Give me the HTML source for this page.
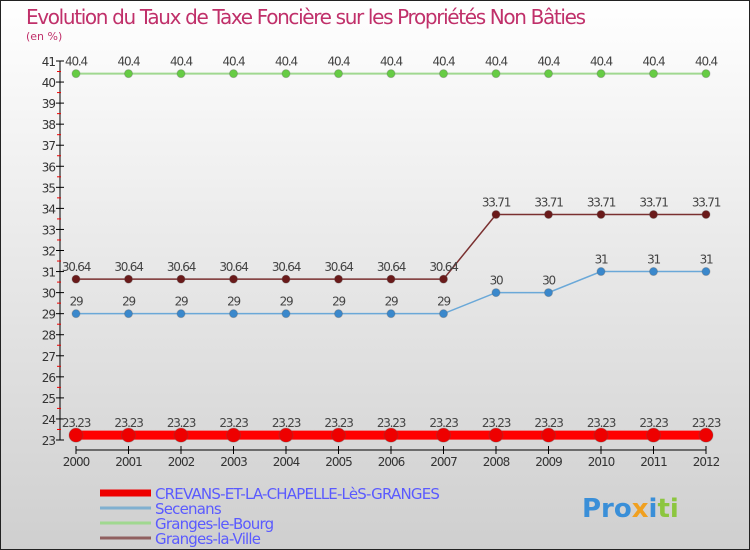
<!DOCTYPE html>
<html><head><meta charset="utf-8"><style>
body{margin:0;}
#c{width:750px;height:550px;position:relative;overflow:hidden;font-family:"DejaVu Sans","Liberation Sans",sans-serif;}
svg text{font-family:"DejaVu Sans","Liberation Sans",sans-serif;}
</style></head><body>
<div id="c">
<svg id="s" width="750" height="550" xmlns="http://www.w3.org/2000/svg">
<defs><linearGradient id="bg" x1="0" y1="0" x2="0" y2="1"><stop offset="0" stop-color="#ffffff"/><stop offset="1" stop-color="#cfcfcf"/></linearGradient></defs>
<rect x="0.5" y="0.5" width="749" height="549" fill="url(#bg)" stroke="#222"/>
<text x="26" y="24" font-size="20" fill="#c0306a" textLength="560">Evolution du Taux de Taxe Foncière sur les Propriétés Non Bâties</text>
<text x="26" y="40" font-size="11" fill="#c0306a">(en %)</text>
<g id="axes"></g><g id="series"></g><g id="legend"></g>
<text x="582" y="517" font-size="26" font-weight="bold" fill="#3a8fd8">Pro<tspan fill="#f0a020">x</tspan><tspan fill="#3a8fd8">i</tspan><tspan fill="#8cc63f">ti</tspan></text>
</svg></div>
<script>
const years=[2000,2001,2002,2003,2004,2005,2006,2007,2008,2009,2010,2011,2012];
const crevans=[23.23,23.23,23.23,23.23,23.23,23.23,23.23,23.23,23.23,23.23,23.23,23.23,23.23];
const secenans=[29,29,29,29,29,29,29,29,30,30,31,31,31];
const bourg=[40.4,40.4,40.4,40.4,40.4,40.4,40.4,40.4,40.4,40.4,40.4,40.4,40.4];
const ville=[30.64,30.64,30.64,30.64,30.64,30.64,30.64,30.64,33.71,33.71,33.71,33.71,33.71];
const yTicks=[23,24,25,26,27,28,29,30,31,32,33,34,35,36,37,38,39,40,41];
const NS="http://www.w3.org/2000/svg";
const X=i=>76+i*52.5, Y=v=>440-(v-23)*(379/18);
function mk(t,a,p){const e=document.createElementNS(NS,t);for(const k in a)e.setAttribute(k,a[k]);p.appendChild(e);return e;}
const ax=document.getElementById('axes');
let l=mk('line',{x1:60,y1:Y(41),x2:60,y2:Y(23),stroke:'#000'},ax);


yTicks.forEach(v=>{
 mk('line',{x1:56,y1:Y(v),x2:64,y2:Y(v),stroke:'#000'},ax);
 if(v<41){mk('line',{x1:57,y1:Y(v+0.5),x2:61,y2:Y(v+0.5),stroke:'#e00'},ax);}
 const t=mk('text',{x:55,y:Y(v)+5,'font-size':12,'text-anchor':'end',fill:'#333','letter-spacing':'-1'},ax);t.textContent=v;
 
 
});
l=mk('line',{x1:X(0),y1:450,x2:X(12),y2:450,stroke:'#000'},ax);


years.forEach((y,i)=>{
 mk('line',{x1:X(i),y1:446,x2:X(i),y2:454,stroke:'#000'},ax);
 const t=mk('text',{x:X(i),y:466,'font-size':12,'text-anchor':'middle',fill:'#333','letter-spacing':'-1'},ax);t.textContent=y;
 
 
});
const sg=document.getElementById('series');
function series(vals,color,lw,r,name,dot){
 const g=mk('g',{},sg);
 
 
 mk('polyline',{points:vals.map((v,i)=>X(i)+','+Y(v)).join(' '),fill:'none',stroke:color,'stroke-width':lw},g);
 vals.forEach((v,i)=>{
  const c=mk('circle',{cx:X(i),cy:Y(v),r:r,fill:dot,stroke:'#555','stroke-opacity':0.3},g);
  
  
  const t=mk('text',{x:X(i),y:Y(v)-8,'font-size':12,'text-anchor':'middle',fill:'#444','letter-spacing':'-1.2'},g);t.textContent=v;
  
  
 });
}
series(bourg,'#a0d890',2,4,'granges-le-bourg-series','#66cc44');
series(ville,'#7a3030',1.5,4,'granges-la-ville-series','#6a1a1a');
series(secenans,'#6aa8d8',1.5,4,'secenans-series','#3a88cc');
series(crevans,'#ff0000',9,7,'crevans-series','#ee0000');
const lg=document.getElementById('legend');
const items=[['CREVANS-ET-LA-CHAPELLE-LèS-GRANGES','#ee0000',7,493],['Secenans','#80b0d0',3,508],['Granges-le-Bourg','#a0d890',3,523],['Granges-la-Ville','#906060',3,538]];
items.forEach(it=>{
 const g=mk('g',{},lg);
 
 
 mk('line',{x1:100,y1:it[3],x2:151,y2:it[3],stroke:it[1],'stroke-width':it[2]},g);
 const t=mk('text',{x:155,y:it[3]+6,'font-size':15,fill:'#5a5aff','letter-spacing':'-0.8'},g);t.textContent=it[0];
});
</script>
</body></html>
